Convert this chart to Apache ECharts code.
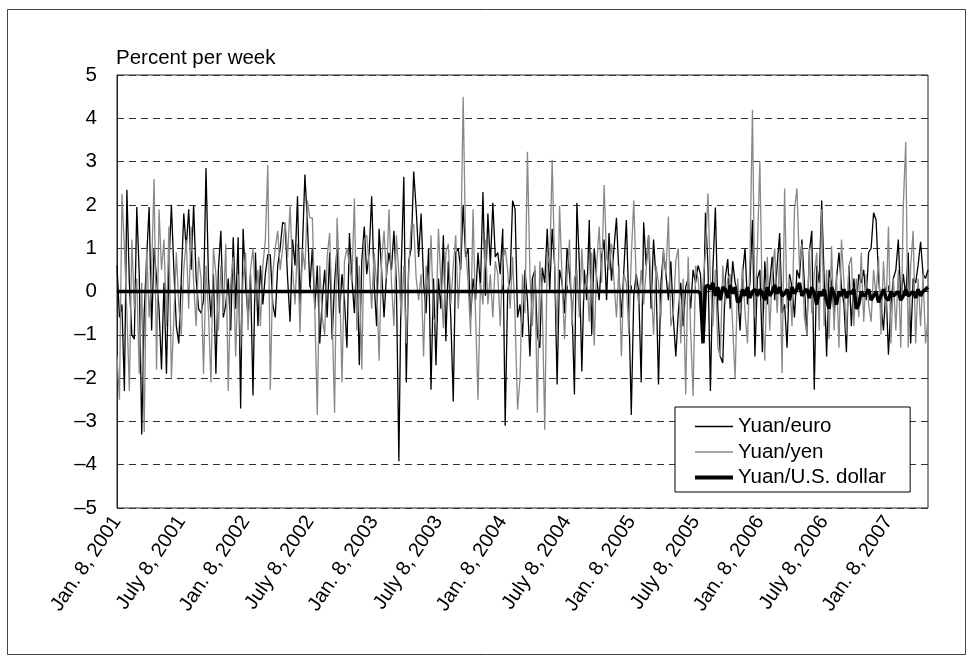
<!DOCTYPE html>
<html>
<head>
<meta charset="utf-8">
<script src="https://cdn.jsdelivr.net/npm/echarts@6/dist/echarts.min.js"></script>
<style>
  html, body { margin: 0; padding: 0; background: #fff; }
  #chart { width: 974px; height: 662px; }
</style>
</head>
<body>
<div id="chart"></div>
<script>
// weekly percent changes, one value per week starting Jan. 8, 2001
const tickLabels = ['Jan. 8, 2001', 'July 8, 2001', 'Jan. 8, 2002', 'July 8, 2002', 'Jan. 8, 2003',
    'July 8, 2003', 'Jan. 8, 2004', 'July 8, 2004', 'Jan. 8, 2005', 'July 8, 2005',
    'Jan. 8, 2006', 'July 8, 2006', 'Jan. 8, 2007'];

const yuanEuro = [
    0.6, -0.6, -0.3, -2.3, 2.35, 0.2, -1.0, -1.1, 1.95, 0.4,
    -3.3, -0.5, 0.8, 1.95, -0.9, 1.0, 0.3, -0.4, -1.8, 0.2,
    -1.9, 0.6, 2.0, 0.5, -0.8, -1.2, 0.3, 1.8, 1.0, 1.9,
    0.5, 2.0, 0.3, -0.4, -0.5, -0.2, 2.85, 0.3, -0.6, 0.4,
    -1.9, 0.5, 1.4, -0.6, -0.3, 0.3, -0.9, 1.25, -0.4, 1.25,
    -2.7, 1.45, 0.2, -0.6, 0.4, -2.4, 0.9, -0.8, 0.6, -0.3,
    0.4, 0.85, 0.85, -0.3, -0.6, 0.6, 1.0, 1.6, 1.55, 0.3,
    -0.7, 1.2, 0.6, 2.2, -0.3, 1.0, 2.7, 1.6, 0.1, 1.0,
    -0.4, 0.6, -1.2, -0.2, 0.5, -0.6, 0.9, -1.1, 0.2, 1.0,
    -0.5, 0.4, -0.2, -1.3, 1.35, 0.3, -0.5, 0.8, -1.7, 0.7,
    1.5, 0.4, 0.9, 2.2, 0.2, -0.8, 1.45, 0.5, -0.6, 0.4,
    0.9, 0.5, 1.4, 0.2, -3.92, 0.6, 2.65, -2.1, 0.7, 1.0,
    2.77, 1.9, 0.8, 1.8, 0.2, -0.5, 1.0, -2.27, 0.3, -1.7,
    0.3, -0.4, 1.3, -1.15, 0.7, -0.6, -2.54, 0.9, 1.0, 0.5,
    2.0, 0.8, 1.0, -0.6, 0.3, -0.2, 0.9, 0.1, 2.3, -0.1,
    1.8, 0.6, 2.05, 0.8, 0.9, 0.4, 1.45, -3.1, 0.0, 0.3,
    2.1, 1.9, -0.6, -0.3, -1.05, 0.5, -0.2, -1.5, 0.3, 0.5,
    -1.0, -1.3, 0.55, 0.2, 1.45, 0.0, 1.45, 0.6, -2.15, 0.5,
    0.2, -0.5, 1.0, 0.4, -0.3, -2.38, 2.05, 0.6, -1.85, 0.5,
    -0.2, 1.65, -1.0, 1.0, 0.3, -0.2, 0.8, 1.2, -0.2, 1.35,
    0.25, 1.0, 1.7, 0.4, -0.6, 0.5, 1.65, -0.3, -2.85, -0.1,
    0.4, 0.0, -2.1, 1.6, 0.6, 1.3, -0.4, 1.2, 0.3, -2.15,
    0.2, 0.9, 0.4, -0.2, 0.7, -0.6, -1.5, -0.5, 0.2, -0.8,
    0.1, 0.3, -0.4, 0.5, 0.2, 0.6, 0.4, -1.1, 1.82, 0.6,
    -2.3, 0.5, 1.94, -0.4, -1.5, -1.65, 0.3, 0.75, -0.4, 0.7,
    0.2, 0.0, -0.9, 0.4, 1.0, -0.3, 0.2, 1.65, -1.5, 0.3,
    0.5, -1.4, 0.7, -0.3, 0.2, 0.8, -0.2, 0.6, 1.35, -0.5,
    -0.3, -1.3, 0.4, 0.1, -0.6, 0.5, 0.3, 1.2, 0.2, -1.0,
    0.9, 1.4, -2.27, 0.6, 0.2, 2.1, 0.3, -1.5, 0.5, 0.2,
    -0.5, 0.3, 0.9, 0.1, -0.3, -1.4, 0.6, -0.8, 0.3, -0.35,
    0.4, 0.2, 0.5, -0.2, 0.9, 1.0, 1.82, 1.65, 0.3, -0.3,
    -0.9, 0.1, -1.46, -0.3, 0.3, 0.5, 1.2, -0.2, 0.4, -0.1,
    0.9, -1.2, 0.3, 0.2, 0.6, 1.15, 0.4, 0.3, 0.5
];

const yuanYen = [
    -1.5, -2.5, 2.25, 1.0, -0.5, -2.3, 1.2, -0.4, 0.3, -1.9,
    0.2, -3.25, 1.0, -0.6, 0.5, 2.6, -1.8, 1.9, 0.5, 1.2,
    -0.8, 1.5, -2.0, -0.6, 0.9, -0.3, -1.0, 0.5, 1.2, -0.4,
    1.5, 0.2, -0.8, 0.8, 0.3, -1.9, 0.6, -0.5, -2.1, 1.0,
    0.4, -0.9, 0.6, -0.5, 1.1, -2.3, 0.2, 0.8, -1.5, 0.4,
    -1.3, 0.3, 0.9, -0.9, 0.5, 1.0, -0.2, 0.5, -0.8, 0.6,
    1.2, 2.92, -2.27, 0.4, 1.0, 1.4, 0.5, 1.0, 1.6, 0.8,
    2.0, 0.5, -0.3, 1.1, -0.95, 1.0, 0.5, 2.1, 1.7, 1.7,
    -0.4, -2.85, 0.6, -0.6, -1.0, 0.8, 1.35, -0.5, -2.8, 1.7,
    0.3, -2.1, 0.7, 1.0, 0.6, 0.2, 2.15, -0.9, 0.6, -1.8,
    1.2, 1.3, 0.6, -0.4, 0.9, 0.2, -1.6, 0.7, 1.4, 0.3,
    1.9, 0.2, -0.8, 1.3, 0.4, -0.6, 0.6, -1.2, 0.5, 1.55,
    1.55, 0.3, -0.2, 0.4, -1.5, 0.6, -0.1, 1.3, -0.6, -0.8,
    1.45, 0.2, -0.85, 0.9, 1.1, -0.3, 0.6, 1.3, -0.4, 0.8,
    4.5, 1.0, 0.2, -1.0, 1.9, -0.5, -2.5, 0.2, -0.3, 1.2,
    -0.3, 0.4, -0.6, 0.7, 0.4, -0.8, 0.7, 1.0, 0.5, -0.4,
    0.8, -0.6, -2.73, -2.0, 0.4, -0.5, 3.23, 0.4, -0.8, 0.6,
    -2.8, 0.7, -0.3, -3.19, 0.9, 0.6, 3.04, 0.6, -1.0, 1.98,
    0.3, -1.1, 0.3, 1.2, -0.8, 0.3, 0.5, -0.6, 1.0, -0.2,
    0.4, -0.7, 0.9, -1.25, 0.6, 1.5, 0.2, 2.46, 0.8, 0.5,
    1.1, 0.25, -0.6, 0.6, -1.5, 0.4, 0.2, -1.0, 0.8, 2.1,
    0.2, -0.3, 0.5, -0.3, 0.5, 1.3, 0.2, -1.0, 0.6, 0.2,
    -0.6, 1.0, 0.4, 1.73, -0.8, -0.5, 0.7, 1.0, -1.2, 0.3,
    -2.38, 0.8, -0.9, -2.42, 0.6, 0.3, -0.5, 0.2, 0.9, 2.27,
    0.3, -0.8, 0.5, -1.3, -1.5, 0.6, -0.3, 0.3, 0.4, -0.8,
    -2.0, 0.3, -0.5, 0.6, -0.5, -1.2, 0.8, 4.2, -0.6, 1.0,
    3.0, -0.4, -1.6, 0.8, -0.9, 0.4, 1.0, -0.5, 0.8, -1.88,
    2.38, -0.4, 0.3, -0.8, 1.9, 2.38, 0.6, 1.1, -0.6, -1.0,
    1.0, -0.5, 0.4, 0.9, -0.9, 1.9, -0.8, 0.5, -1.1, 1.05,
    -0.9, 0.4, -1.3, 1.2, 0.2, -1.0, 0.6, 0.8, -0.8, 0.3,
    -0.6, 0.9, -0.7, 0.4, -0.3, -0.7, 0.5, -0.1, 0.8, -1.0,
    0.7, -0.5, 1.5, -1.2, 0.3, -0.9, 0.5, -1.3, 1.96, 3.45,
    -1.3, 0.6, 1.4, -1.2, 0.3, -0.8, 0.4, -1.2, -0.6
];

const yuanDollar = [
    0, 0, 0, 0, 0, 0, 0, 0, 0, 0, 0, 0, 0, 0, 0, 0, 0, 0, 0, 0, 0, 0, 0, 0, 0, 0,
    0, 0, 0, 0, 0, 0, 0, 0, 0, 0, 0, 0, 0, 0, 0, 0, 0, 0, 0, 0, 0, 0, 0, 0, 0, 0,
    0, 0, 0, 0, 0, 0, 0, 0, 0, 0, 0, 0, 0, 0, 0, 0, 0, 0, 0, 0, 0, 0, 0, 0, 0, 0,
    0, 0, 0, 0, 0, 0, 0, 0, 0, 0, 0, 0, 0, 0, 0, 0, 0, 0, 0, 0, 0, 0, 0, 0, 0, 0,
    0, 0, 0, 0, 0, 0, 0, 0, 0, 0, 0, 0, 0, 0, 0, 0, 0, 0, 0, 0, 0, 0, 0, 0, 0, 0,
    0, 0, 0, 0, 0, 0, 0, 0, 0, 0, 0, 0, 0, 0, 0, 0, 0, 0, 0, 0, 0, 0, 0, 0, 0, 0,
    0, 0, 0, 0, 0, 0, 0, 0, 0, 0, 0, 0, 0, 0, 0, 0, 0, 0, 0, 0, 0, 0, 0, 0, 0, 0,
    0, 0, 0, 0, 0, 0, 0, 0, 0, 0, 0, 0, 0, 0, 0, 0, 0, 0, 0, 0, 0, 0, 0, 0, 0, 0,
    0, 0, 0, 0, 0, 0, 0, 0, 0, 0, 0, 0, 0, 0, 0, 0, 0, 0, 0, 0, 0, 0, 0, 0, 0, 0,
    0,
    0.0, -0.05, -1.2, 0.1, 0.15, 0.05, 0.2, -0.1, 0.1, -0.2,
    0.1, 0.05, -0.15, 0.15, -0.05, 0.1, -0.25, -0.2, 0.05, -0.1,
    0.1, -0.15, 0.0, 0.05, -0.1, 0.05, -0.05, -0.2, 0.1, -0.1,
    0.0, 0.15, -0.05, 0.1, -0.1, -0.05, 0.05, -0.2, 0.1, -0.05,
    0.05, 0.2, -0.1, 0.0, 0.05, -0.15, 0.1, -0.05, -0.3, 0.0,
    -0.1, 0.05, -0.2, -0.4, 0.1, -0.05, -0.3, 0.0, -0.1, 0.05,
    -0.15, 0.0, -0.05, 0.05, -0.4, -0.3, 0.0, -0.1, -0.05, 0.05,
    -0.2, -0.1, 0.0, -0.25, -0.1, 0.05, -0.15, -0.2, 0.0, -0.1,
    -0.05, 0.0, -0.2, -0.1, 0.05, -0.1, -0.05, 0.0, -0.15, 0.05,
    -0.1, 0.0, 0.05, 0.1
];

const weeksPerTick = 26;
const fontName = '"Liberation Sans", Arial, Helvetica, sans-serif';
const fontSize = 20.5;

function toPoints(values) {
    return values.map((v, i) => [i, v]);
}

let chart = echarts.init(document.getElementById('chart'), null, { renderer: 'canvas' });

let options = {
    animation: false,
    backgroundColor: '#fff',
    textStyle: { fontFamily: fontName },
    title: {
        text: 'Percent per week',
        left: 111,
        top: 43,
        textStyle: { fontFamily: fontName, fontSize: fontSize, fontWeight: 'normal', color: '#000' }
    },
    graphic: [{
        type: 'rect',
        shape: { x: 7.5, y: 9.5, width: 958, height: 645 },
        style: { fill: 'none', stroke: '#444', lineWidth: 1 },
        silent: true
    }],
    grid: {
        left: 117,
        right: 46,
        top: 75,
        bottom: 154,
        show: true,
        borderColor: '#222',
        borderWidth: 1
    },
    legend: {
        orient: 'vertical',
        left: 675,
        top: 407,
        padding: [9, 24, 4, 18],
        itemWidth: 38,
        itemHeight: 14,
        itemGap: 4.5,
        backgroundColor: '#fff',
        borderColor: '#000',
        borderWidth: 1,
        borderRadius: 0,
        itemStyle: { opacity: 0 },
        textStyle: { fontFamily: fontName, fontSize: fontSize, color: '#000', lineHeight: 21 },
        data: [
            { name: 'Yuan/euro', lineStyle: { color: '#000', width: 1.3 } },
            { name: 'Yuan/yen', lineStyle: { color: '#888', width: 1.3 } },
            { name: 'Yuan/U.S. dollar', lineStyle: { color: '#000', width: 4 } }
        ]
    },
    xAxis: {
        type: 'value',
        min: 0,
        max: yuanEuro.length - 1,
        interval: weeksPerTick,
        axisLine: { show: true, lineStyle: { color: '#222', width: 1 } },
        axisTick: { show: true, inside: true, length: 6, lineStyle: { color: '#222' } },
        splitLine: { show: false },
        axisLabel: {
            rotate: 56,
            margin: 10,
            fontFamily: fontName,
            fontSize: 20,
            color: '#000',
            showMaxLabel: false,
            formatter: function(v) {
                if (v % weeksPerTick !== 0) return '';
                return tickLabels[v / weeksPerTick] || '';
            }
        }
    },
    yAxis: {
        type: 'value',
        min: -5,
        max: 5,
        interval: 1,
        axisLine: { show: true, lineStyle: { color: '#222', width: 1 } },
        axisTick: { show: false },
        splitLine: { show: true, lineStyle: { color: '#333', width: 1, type: [7, 5] } },
        axisLabel: {
            margin: 20,
            fontFamily: fontName,
            fontSize: fontSize,
            color: '#000',
            formatter: function(v) {
                return String(v).replace('-', '\u2013');
            }
        }
    },
    series: [
        {
            name: 'Yuan/euro',
            type: 'line',
            data: toPoints(yuanEuro),
            symbol: 'none',
            color: '#000',
            lineStyle: { color: '#000', width: 1.3 }
        },
        {
            name: 'Yuan/yen',
            type: 'line',
            data: toPoints(yuanYen),
            symbol: 'none',
            color: '#888',
            lineStyle: { color: '#888', width: 1.3 }
        },
        {
            name: 'Yuan/U.S. dollar',
            type: 'line',
            data: toPoints(yuanDollar),
            symbol: 'none',
            color: '#000',
            lineStyle: { color: '#000', width: 3.5 }
        }
    ]
};
chart.setOption(options);
</script>
</body>
</html>
